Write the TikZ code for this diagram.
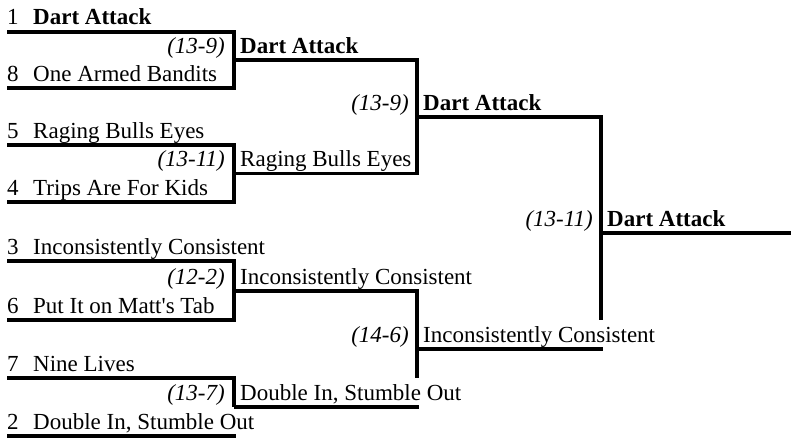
\documentclass[tikz,border=0pt]{standalone}
\usepackage{fontspec}
\setmainfont{Liberation Serif}
\begin{document}
\begin{tikzpicture}[x=1pt,y=-1pt,
  txt/.style={inner sep=0pt, font=\fontsize{23}{27}\selectfont},
  team/.style={txt, anchor=base west},
  win/.style={team, font=\fontsize{23}{27}\selectfont\bfseries},
  score/.style={txt, anchor=base east, font=\fontsize{23}{27}\selectfont\itshape},
  bline/.style={draw=black, line width=3.2pt, line join=miter, line cap=butt}]
\useasboundingbox (0,0) rectangle (791,438);
% first-round line starts
\coordinate (L1) at (7,32);
\coordinate (L8) at (7,88);
\coordinate (L5) at (7,145);
\coordinate (L4) at (7,202);
\coordinate (L3) at (7,261);
\coordinate (L6) at (7,320);
\coordinate (L7) at (7,378);
\coordinate (L2) at (7,436);
% later-round line starts
\coordinate (Q1) at (234,60);
\coordinate (Q2) at (234,173.5);
\coordinate (Q3) at (234,291);
\coordinate (Q4) at (234,407);
\coordinate (S1) at (417,117);
\coordinate (S2) at (417,349);
\coordinate (F) at (601,233);
\coordinate (E) at (791,233);
% where overflowing text hides a vertical border
\coordinate (L2e) at (235.6,436);
\coordinate (G4) at (417,378);
\coordinate (Q4e) at (418.6,407);
\coordinate (GS) at (601,320);
\coordinate (S2e) at (602.6,349);
% brackets
\draw[bline] (L1) -- (L1 -| Q1) -- (L8 -| Q1) -- (L8);
\draw[bline] (L5) -- (L5 -| Q2) -- (L4 -| Q2) -- (L4);
\draw[bline] (L3) -- (L3 -| Q3) -- (L6 -| Q3) -- (L6);
\draw[bline] (L7) -- (L7 -| Q4) -- (Q4);
\draw[bline] (L2) -- (L2e);
\draw[bline] (Q1) -- (Q1 -| S1) -- (Q2 -| S1) -- (Q2);
\draw[bline] (Q3) -- (Q3 -| S2) -- (G4);
\draw[bline] (Q4) -- (Q4e);
\draw[bline] (S1) -- (S1 -| F) -- (GS);
\draw[bline] (S2) -- (S2e);
\draw[bline] (F) -- (E);
% seeds
\node[team] (n1) at (7,25) {1};
\node[team] (n8) at (7,81.5) {8};
\node[team] (n5) at (7,138.5) {5};
\node[team] (n4) at (7,195.5) {4};
\node[team] (n3) at (7,254.5) {3};
\node[team] (n6) at (7,313.5) {6};
\node[team] (n7) at (7,371.5) {7};
\node[team] (n2) at (7,429.5) {2};
% first-round teams
\node[win]  (t1) at (33,25) {Dart Attack};
\node[team] (t8) at (33,81.5) {One Armed Bandits};
\node[team] (t5) at (33,138.5) {Raging Bulls Eyes};
\node[team] (t4) at (33,195.5) {Trips Are For Kids};
\node[team] (t3) at (33,254.5) {Inconsistently Consistent};
\node[team] (t6) at (33,313.5) {Put It on Matt\textquotesingle s Tab};
\node[team] (t7) at (33,371.5) {Nine Lives};
\node[team] (t2) at (33,429.5) {Double In, Stumble Out};
% round two
\node[score] (c1) at (225,53.5) {(13-9)};
\node[win]   (r1) at (240,53.5) {Dart Attack};
\node[score] (c2) at (225,167) {(13-11)};
\node[team]  (r2) at (240,167) {Raging Bulls Eyes};
\node[score] (c3) at (225,284.5) {(12-2)};
\node[team]  (r3) at (240,284.5) {Inconsistently Consistent};
\node[score] (c4) at (225,400.5) {(13-7)};
\node[team]  (r4) at (240,400.5) {Double In, Stumble Out};
% round three
\node[score] (d1) at (409,110.5) {(13-9)};
\node[win]   (s1) at (423,110.5) {Dart Attack};
\node[score] (d2) at (409,342.5) {(14-6)};
\node[team]  (s2) at (423,342.5) {Inconsistently Consistent};
% final
\node[score] (fs) at (593,226.5) {(13-11)};
\node[win]   (fw) at (607,226.5) {Dart Attack};
\end{tikzpicture}
\end{document}
